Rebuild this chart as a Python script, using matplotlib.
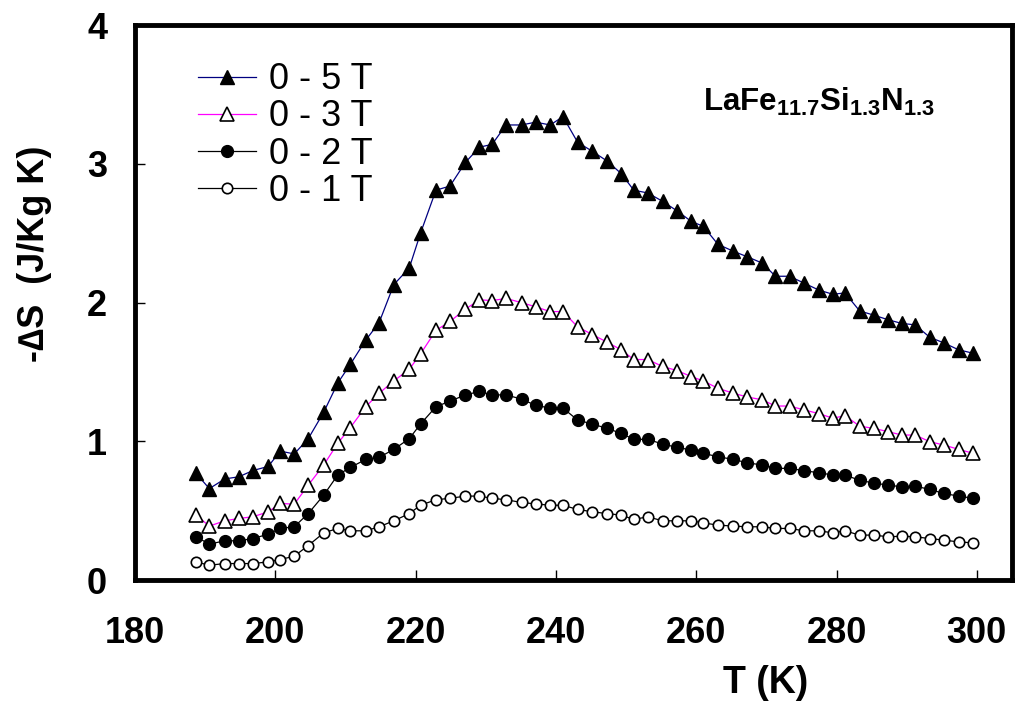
import numpy as np
import matplotlib
matplotlib.use("Agg")
import matplotlib.pyplot as plt

plt.rcParams['font.family'] = ['Liberation Sans', 'DejaVu Sans']
plt.rcParams['mathtext.fontset'] = 'custom'
plt.rcParams['mathtext.bf'] = 'Liberation Sans:bold'
plt.rcParams['mathtext.rm'] = 'Liberation Sans'

# Temperaturas (K)
T = [188.7, 190.6, 192.8, 194.8, 196.8, 199.0, 200.7, 202.7, 204.7, 206.9,
     208.9, 210.7, 212.9, 214.8, 216.9, 219.1, 220.7, 222.9, 224.9, 227.1,
     229.1, 230.9, 232.9, 235.1, 237.1, 239.2, 241.0, 243.1, 245.2, 247.3,
     249.3, 251.1, 253.1, 255.2, 257.3, 259.3, 261.0, 263.1, 265.3, 267.3,
     269.4, 271.3, 273.3, 275.4, 277.5, 279.5, 281.2, 283.3, 285.3, 287.4,
     289.3, 291.2, 293.3, 295.3, 297.4, 299.5]

# -dS para cada campo
dS_5T = [0.77, 0.66, 0.73, 0.745, 0.79, 0.82, 0.93, 0.91, 1.02, 1.21,
         1.42, 1.556, 1.73, 1.856, 2.13, 2.25, 2.50, 2.81, 2.84, 3.01,
         3.12, 3.14, 3.28, 3.28, 3.30, 3.28, 3.34, 3.155, 3.09, 3.02,
         2.93, 2.81, 2.79, 2.73, 2.66, 2.585, 2.55, 2.42, 2.37, 2.33,
         2.285, 2.19, 2.19, 2.14, 2.09, 2.06, 2.07, 1.94, 1.91, 1.876,
         1.85, 1.84, 1.75, 1.71, 1.66, 1.635]
dS_3T = [0.469, 0.39, 0.428, 0.445, 0.457, 0.493, 0.553, 0.548, 0.685, 0.83,
         0.986, 1.10, 1.25, 1.347, 1.436, 1.52, 1.63, 1.80, 1.864, 1.953,
         2.02, 2.015, 2.03, 2.00, 1.97, 1.935, 1.936, 1.825, 1.77, 1.715,
         1.66, 1.59, 1.59, 1.54, 1.51, 1.467, 1.436, 1.383, 1.347, 1.32,
         1.30, 1.255, 1.255, 1.227, 1.20, 1.167, 1.186, 1.11, 1.094, 1.07,
         1.046, 1.046, 0.998, 0.974, 0.943, 0.914]
dS_2T = [0.313, 0.26, 0.284, 0.284, 0.30, 0.332, 0.373, 0.385, 0.48, 0.613,
         0.758, 0.813, 0.87, 0.885, 0.943, 1.02, 1.125, 1.25, 1.29, 1.335,
         1.36, 1.335, 1.335, 1.305, 1.26, 1.24, 1.24, 1.154, 1.125, 1.094,
         1.058, 1.015, 1.015, 0.981, 0.957, 0.938, 0.914, 0.89, 0.87, 0.846,
         0.83, 0.806, 0.806, 0.789, 0.774, 0.758, 0.758, 0.72, 0.70, 0.685,
         0.673, 0.678, 0.654, 0.625, 0.606, 0.59]
dS_1T = [0.132, 0.108, 0.12, 0.12, 0.12, 0.132, 0.149, 0.173, 0.25, 0.341,
         0.373, 0.356, 0.356, 0.385, 0.428, 0.48, 0.54, 0.58, 0.59, 0.606,
         0.606, 0.59, 0.58, 0.56, 0.55, 0.54, 0.54, 0.51, 0.493, 0.48,
         0.469, 0.438, 0.457, 0.428, 0.428, 0.428, 0.413, 0.397, 0.39, 0.385,
         0.385, 0.373, 0.373, 0.356, 0.356, 0.341, 0.356, 0.325, 0.325, 0.313,
         0.317, 0.313, 0.30, 0.289, 0.276, 0.269]

xticks = [180, 200, 220, 240, 260, 280, 300]
yticks = [0, 1, 2, 3, 4]

fig = plt.figure(figsize=(10.18, 7.05), dpi=100)
ax = fig.add_axes([0.1326, 0.177, 0.8614, 0.7875])

ax.plot(T, dS_5T, color='#000080', lw=0.9, marker='^', ms=10,
        mfc='black', mec='black', label='0 - 5 T')
ax.plot(T, dS_3T, color='#ff00ff', lw=0.9, marker='^', ms=10,
        mfc='white', mec='black', mew=1.2, label='0 - 3 T')
ax.plot(T, dS_2T, color='black', lw=0.9, marker='o', ms=8.5,
        mfc='black', mec='black', label='0 - 2 T')
ax.plot(T, dS_1T, color='black', lw=0.9, marker='o', ms=7.5,
        mfc='white', mec='black', mew=1.2, label='0 - 1 T')

ax.set_xlim(180, 305)
ax.set_ylim(0, 4)
ax.set_xticks(xticks)
ax.set_yticks(yticks)
for lab in ax.get_xticklabels() + ax.get_yticklabels():
    lab.set_fontweight('bold')
ax.tick_params(axis='x', direction='in', length=7, width=1, labelsize=26, pad=26)
ax.tick_params(axis='y', direction='in', length=7, width=1, labelsize=26, pad=20)
for s in ax.spines.values():
    s.set_linewidth(3.5)

fig.text(0.752, 0.031, 'T (K)', fontsize=27, fontweight='bold',
         ha='center', va='center')
fig.text(0.034, 0.64, '-∆S  (J/Kg K)', fontsize=26, fontweight='bold',
         rotation=90, ha='center', va='center')

ax.text(0.648, 0.862, r'$\mathbf{LaFe_{11.7}Si_{1.3}N_{1.3}}$',
        transform=ax.transAxes, fontsize=22.5, ha='left', va='center')

ax.legend(loc='upper left', bbox_to_anchor=(0.072, 0.933), frameon=False,
          fontsize=26, handlelength=1.6, handletextpad=0.35,
          labelspacing=0.06, borderpad=0, borderaxespad=0)

fig.savefig('out.png', dpi=100)
